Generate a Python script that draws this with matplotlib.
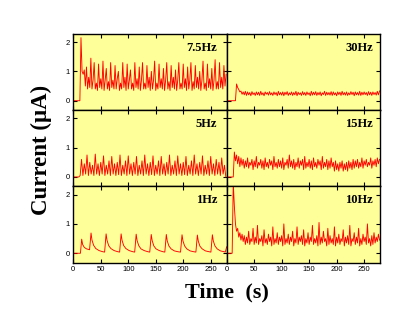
import numpy as np
import matplotlib
matplotlib.use('Agg')
import matplotlib.pyplot as plt

# panel labels, laid out row by row (left, right)
labels = [['7.5Hz', '30Hz'], ['5Hz', '15Hz'], ['1Hz', '10Hz']]

# 7.5 Hz trace, sampled every 2 s from t = 0
y_75 = [0, 0, 0, 0, 0, 0, 0,
        2.15, 1.0, 0.9, 1.05, 0.5, 1.15, 0.4, 0.8, 0.45, 1.45,
        0.4, 0.7, 1.3, 0.4, 0.6, 0.35, 1.25, 0.45, 0.75, 0.4,
        1.35, 0.35, 0.7, 1.1, 0.4, 0.65, 0.35, 1.3, 0.45, 0.7,
        0.4, 1.2, 0.4, 0.75, 1.0, 0.35, 0.6, 0.4, 1.3, 0.45,
        0.8, 0.35, 1.25, 0.4, 0.7, 1.05, 0.4, 0.6, 0.35, 1.3,
        0.45, 0.75, 0.4, 1.15, 0.35, 0.7, 1.3, 0.4, 0.6, 0.4,
        1.2, 0.45, 0.8, 0.35, 1.0, 0.4, 0.7, 1.35, 0.35, 0.6,
        0.4, 1.25, 0.45, 0.75, 0.4, 1.1, 0.35, 0.7, 1.3, 0.4,
        0.65, 0.35, 1.2, 0.45, 0.8, 0.4, 1.05, 0.35, 0.7, 1.3,
        0.4, 0.6, 0.4, 1.25, 0.45, 0.75, 0.35, 1.15, 0.4, 0.7,
        1.3, 0.35, 0.65, 0.4, 1.2, 0.45, 0.8, 0.4, 1.0, 0.35,
        0.7, 1.35, 0.4, 0.6, 0.35, 1.25, 0.45, 0.75, 0.4, 1.1,
        0.35, 0.7, 1.4, 0.4, 0.65, 0.4, 1.3, 0.45, 0.8, 0.4,
        1.2, 0.5, 0.9]

# 30 Hz trace, every 2 s
y_30 = [0, 0, 0, 0, 0, 0, 0, 0, 0,
        0.57, 0.45, 0.38, 0.3, 0.33, 0.22, 0.3, 0.2, 0.32, 0.18,
        0.3, 0.2, 0.28, 0.17, 0.31, 0.21, 0.27, 0.18, 0.3, 0.2,
        0.29, 0.18, 0.32, 0.2, 0.27, 0.17, 0.3, 0.22, 0.28, 0.19,
        0.31, 0.2, 0.27, 0.18, 0.3, 0.21, 0.28, 0.17, 0.32, 0.2,
        0.28, 0.19, 0.3, 0.17, 0.29, 0.21, 0.31, 0.18, 0.27, 0.2,
        0.3, 0.18, 0.28, 0.2, 0.32, 0.17, 0.29, 0.21, 0.27, 0.18,
        0.31, 0.2, 0.28, 0.18, 0.3, 0.21, 0.27, 0.17, 0.32, 0.19,
        0.29, 0.2, 0.31, 0.18, 0.28, 0.2, 0.3, 0.17, 0.27, 0.21,
        0.32, 0.18, 0.29, 0.2, 0.28, 0.19, 0.31, 0.18, 0.3, 0.2,
        0.27, 0.17, 0.3, 0.21, 0.29, 0.18, 0.32, 0.2, 0.28, 0.19,
        0.3, 0.18, 0.27, 0.2, 0.31, 0.21, 0.29, 0.17, 0.3, 0.2,
        0.28, 0.19, 0.32, 0.18, 0.29, 0.2, 0.3, 0.21, 0.28, 0.18,
        0.31, 0.2, 0.29, 0.18, 0.3, 0.21, 0.28, 0.19, 0.32, 0.2,
        0.33]

# 5 Hz trace, every 2.5 s
y_5 = [0, 0, 0, 0, 0,
       0.05, 0.6, 0.05, 0.45, 0.1, 0.75, 0.05, 0.5, 0.1, 0.4,
       0.05, 0.78, 0.1, 0.45, 0.05, 0.5, 0.1, 0.72, 0.05, 0.4,
       0.1, 0.55, 0.05, 0.7, 0.1, 0.45, 0.05, 0.5, 0.08, 0.75,
       0.05, 0.4, 0.1, 0.55, 0.05, 0.72, 0.1, 0.45, 0.05, 0.5,
       0.1, 0.7, 0.05, 0.4, 0.1, 0.55, 0.05, 0.75, 0.1, 0.45,
       0.05, 0.5, 0.08, 0.72, 0.05, 0.4, 0.1, 0.55, 0.05, 0.7,
       0.1, 0.45, 0.05, 0.5, 0.1, 0.75, 0.05, 0.4, 0.1, 0.55,
       0.05, 0.72, 0.1, 0.45, 0.05, 0.5, 0.08, 0.7, 0.05, 0.4,
       0.1, 0.55, 0.05, 0.75, 0.1, 0.45, 0.05, 0.5, 0.1, 0.72,
       0.05, 0.4, 0.1, 0.55, 0.05, 0.7, 0.1, 0.45, 0.05, 0.6,
       0.1, 0.5, 0.05, 0.65, 0.1, 0.4, 0.0]

# 15 Hz trace, every 2 s
y_15 = [0, 0, 0, 0, 0, 0, 0,
        0.85, 0.55, 0.75, 0.45, 0.7, 0.35, 0.65, 0.4, 0.6, 0.3,
        0.55, 0.35, 0.65, 0.3, 0.5, 0.4, 0.6, 0.25, 0.55, 0.35,
        0.7, 0.3, 0.5, 0.4, 0.6, 0.3, 0.55, 0.25, 0.65, 0.35,
        0.5, 0.3, 0.6, 0.4, 0.55, 0.25, 0.7, 0.35, 0.5, 0.3,
        0.6, 0.35, 0.55, 0.3, 0.65, 0.25, 0.5, 0.4, 0.6, 0.3,
        0.75, 0.35, 0.55, 0.3, 0.6, 0.25, 0.5, 0.35, 0.65, 0.3,
        0.55, 0.4, 0.6, 0.25, 0.7, 0.3, 0.5, 0.35, 0.6, 0.3,
        0.55, 0.25, 0.65, 0.35, 0.5, 0.3, 0.6, 0.4, 0.55, 0.25,
        0.7, 0.3, 0.5, 0.35, 0.6, 0.25, 0.55, 0.3, 0.65, 0.35,
        0.5, 0.2, 0.55, 0.25, 0.45, 0.2, 0.5, 0.3, 0.55, 0.2,
        0.45, 0.25, 0.5, 0.2, 0.55, 0.3, 0.5, 0.25, 0.6, 0.3,
        0.55, 0.35, 0.6, 0.3, 0.5, 0.35, 0.65, 0.3, 0.55, 0.4,
        0.6, 0.35, 0.5, 0.4, 0.65, 0.3, 0.55, 0.4, 0.6, 0.35,
        0.65, 0.45, 0.6]

# 1 Hz trace, read point by point
t_1 = [0, 13.0, 15.3, 17.0, 20.0, 24.0, 29.6,
       32.3, 34.0, 37.0, 41.0, 47.0, 54.0, 57.0,
       59.7, 61.4, 64.4, 68.4, 74.4, 81.4, 84.3,
       87.0, 88.7, 91.7, 95.7, 101.7, 108.7, 111.7,
       114.4, 116.1, 119.1, 123.1, 129.1, 136.1, 139.1,
       141.8, 143.5, 146.5, 150.5, 156.5, 163.5, 166.5,
       169.2, 170.9, 173.9, 177.9, 183.9, 190.9, 195.1,
       197.8, 199.5, 202.5, 206.5, 212.5, 219.5, 223.0,
       225.7, 227.4, 230.4, 234.4, 240.4, 247.4, 250.3,
       253.0, 254.7, 257.7, 261.7, 267.7, 274.7, 276.5, 279.0]
y_1 = [0, 0, 0.48, 0.3, 0.2, 0.15, 0.12,
       0.69, 0.45, 0.27, 0.16, 0.09, 0.05, 0.04,
       0.66, 0.44, 0.26, 0.16, 0.09, 0.05, 0.04,
       0.66, 0.44, 0.26, 0.16, 0.09, 0.05, 0.04,
       0.65, 0.43, 0.26, 0.15, 0.09, 0.05, 0.04,
       0.64, 0.43, 0.25, 0.15, 0.09, 0.05, 0.04,
       0.64, 0.42, 0.25, 0.15, 0.08, 0.05, 0.04,
       0.63, 0.42, 0.25, 0.15, 0.08, 0.05, 0.04,
       0.62, 0.41, 0.24, 0.15, 0.08, 0.05, 0.04,
       0.63, 0.42, 0.25, 0.15, 0.08, 0.05, 0.04, 0.22]

# 10 Hz trace, every 2 s
y_10 = [0, 0, 0, 0, 0, 0,
        2.4, 1.6, 1.0, 0.75, 0.85, 0.55, 0.7, 0.45, 0.65, 0.4,
        0.6, 0.3, 0.55, 0.35, 0.75, 0.3, 0.5, 0.4, 0.85, 0.3,
        0.55, 0.35, 0.95, 0.3, 0.5, 0.4, 0.6, 0.25, 0.8, 0.35,
        0.5, 0.3, 0.65, 0.4, 0.55, 0.25, 0.9, 0.3, 0.5, 0.35,
        0.7, 0.3, 0.55, 0.4, 0.6, 0.25, 1.0, 0.3, 0.5, 0.35,
        0.65, 0.3, 0.55, 0.4, 0.75, 0.25, 0.5, 0.35, 0.9, 0.3,
        0.55, 0.4, 0.6, 0.3, 0.8, 0.25, 0.5, 0.35, 0.7, 0.3,
        0.55, 0.4, 0.95, 0.3, 0.5, 0.35, 0.6, 0.25, 1.05, 0.3,
        0.55, 0.35, 0.75, 0.4, 0.5, 0.25, 0.85, 0.3, 0.6, 0.35,
        0.5, 0.3, 0.9, 0.25, 0.55, 0.35, 0.65, 0.3, 0.5, 0.4,
        0.8, 0.25, 0.55, 0.35, 0.6, 0.3, 0.95, 0.25, 0.5, 0.4,
        0.7, 0.3, 0.55, 0.35, 0.85, 0.25, 0.5, 0.3, 0.65, 0.4,
        0.55, 0.3, 1.0, 0.35, 0.5, 0.25, 0.6, 0.3, 0.7, 0.35,
        0.55, 0.4, 0.65, 0.45]

xticks = [0, 50, 100, 150, 200, 250]
yticks = [0, 1, 2]

traces = [[(np.arange(len(y_75)) * 2.0, y_75), (np.arange(len(y_30)) * 2.0, y_30)],
          [(np.arange(len(y_5)) * 2.5, y_5), (np.arange(len(y_15)) * 2.0, y_15)],
          [(t_1, y_1), (np.arange(len(y_10)) * 2.0, y_10)]]

fig, axes = plt.subplots(3, 2, sharex=True, sharey=True, figsize=(4.14, 3.35), dpi=100,
                         gridspec_kw={'hspace': 0, 'wspace': 0})
fig.subplots_adjust(left=0.177, right=0.918, bottom=0.216, top=0.899)

for r in range(3):
    for c in range(2):
        ax = axes[r, c]
        t, y = traces[r][c]
        ax.set_facecolor('#ffff99')
        ax.plot(t, y, color='red', lw=0.65)
        ax.set_xlim(0, 279)
        ax.set_ylim(-0.32, 2.28)
        ax.set_xticks(xticks)
        ax.set_yticks(yticks)
        ax.tick_params(direction='in', length=3, width=0.8, top=True, right=True,
                       labelsize=5.5, pad=2.5)
        for lab in ax.get_xticklabels() + ax.get_yticklabels():
            lab.set_family('Liberation Sans')
        for s in ax.spines.values():
            s.set_linewidth(1.0)
        ax.text(0.94 if c == 0 else 0.955, 0.82, labels[r][c], transform=ax.transAxes,
                ha='right', va='center', fontsize=9, fontweight='bold',
                family='Liberation Serif')

fig.text(0.099, 0.552, 'Current (\u03bcA)', rotation=90, ha='center', va='center',
         fontsize=16.5, fontweight='bold', family='Liberation Serif')
fig.text(0.548, 0.128, 'Time  (s)', ha='center', va='center',
         fontsize=16, fontweight='bold', family='Liberation Serif')

fig.savefig('out.png', dpi=100, facecolor='white')
